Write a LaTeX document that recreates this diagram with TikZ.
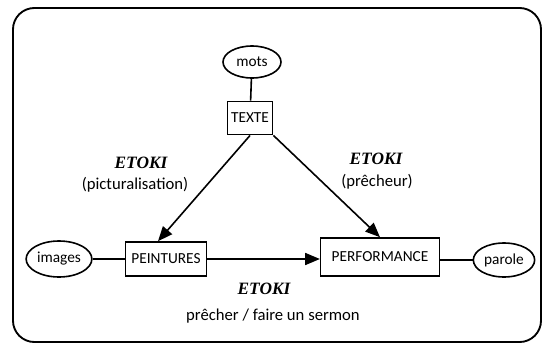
\documentclass[tikz,border=0pt]{standalone}
\usepackage{fontspec}
\setmainfont{Carlito}
\newfontfamily\etokifont{Liberation Serif}
\usepackage{tikz}
\usetikzlibrary{arrows.meta}
\usetikzlibrary{positioning,shapes.geometric}
\tikzset{
    box/.style={
        draw,
        rectangle,
        fill=white,
        line width=1.2pt,
        inner sep=2pt,
        font=\fontsize{11.5}{13}\selectfont
    },
    oval/.style={
        draw,
        ellipse,
        fill=white,
        line width=1.2pt,
        inner sep=1pt,
        font=\fontsize{11.5}{13}\selectfont
    },
    every node/.style={font=\rmfamily}
}
\newcommand{\etoki}{{\etokifont\bfseries\itshape\fontsize{13}{15}\selectfont ETOKI}}

\begin{document}
\begin{tikzpicture}[x=0.75pt, y=-0.75pt]
  \tikzset{
    link/.style={
      draw=black,
      line width=1.2pt
    },
    arrow/.style={
      link,
      -{Triangle[length=11pt, width=9pt]}
    },
    note/.style={
      font=\fontsize{12.5}{14}\selectfont
    }
  }
  \useasboundingbox (0,0) rectangle (544,347);

  % Frame
  \draw[line width=1.4pt, rounded corners=16pt] (13,8) rectangle (541,342);

  % Boxes
  \node[box, minimum width=34pt, minimum height=25pt] (texte) at (250,118) {TEXTE};
  \node[box, minimum width=61pt, minimum height=25.5pt] (peintures) at (166,259) {PEINTURES};
  \node[box, minimum width=89pt, minimum height=28.5pt] (performance) at (380,257) {PERFORMANCE};

  % Ovals
  \node[oval, minimum width=43.5pt, minimum height=24pt] (mots) at (252,62) {mots};
  \node[oval, minimum width=43.5pt, minimum height=27pt] (images) at (59,259) {images};
  \node[oval, minimum width=46pt, minimum height=25.5pt] (parole) at (504,260) {parole};

  % Plain links
  \draw[link] (mots) -- (texte);
  \draw[link] (images) -- (peintures);
  \draw[link] (performance.east |- parole) -- (parole);

  % Arrows
  \draw[arrow] (texte.south) -- ([xshift=-6pt]peintures.north);
  \draw[arrow] (texte.south east) -- (performance.north);
  \draw[arrow] (peintures.east) -- (peintures.east -| performance.west);

  % Labels
  \node (etokiA) at (141,163) {\etoki};
  \node[note] (pict) at (135,185) {(picturalisation)};
  \node (etokiB) at (376,159) {\etoki};
  \node[note] (prech) at (377,182) {(prêcheur)};
  \node (etokiC) at (264,289) {\etoki};
  \node[note] (sermon) at (273,316) {prêcher / faire un sermon};
\end{tikzpicture}
\end{document}
